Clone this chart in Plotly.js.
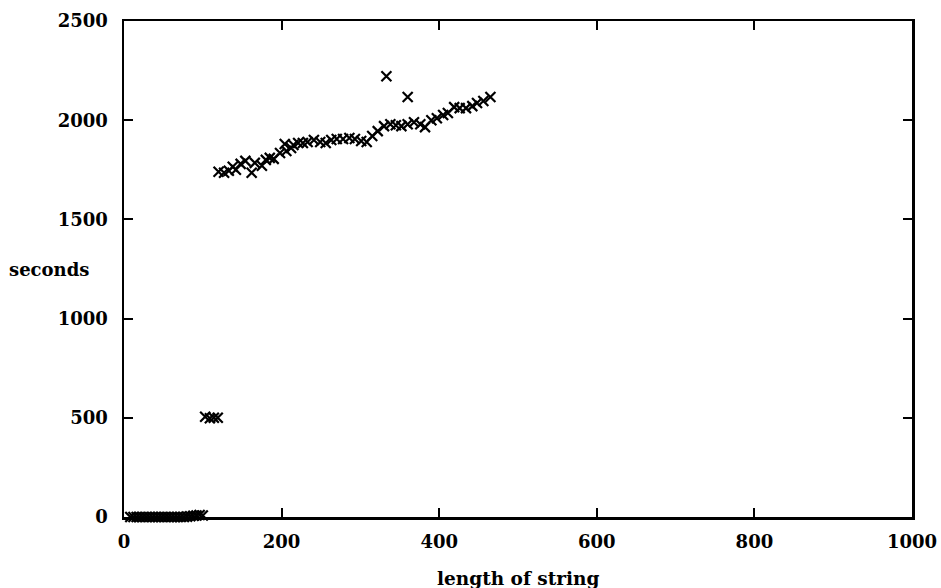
<!DOCTYPE html>
<html>
<head>
<meta charset="utf-8">
<script src="https://cdn.plot.ly/plotly-3.0.1.min.js"></script>
<style>html,body{margin:0;padding:0;background:#fff;}#chart{width:941px;height:588px;}</style>
</head>
<body>
<div id="chart"></div>
<script>
// length of string
const lengthLow = [8, 12, 16, 20, 24, 28, 32, 36, 40, 44, 48, 52, 56, 60, 64, 68, 72, 76, 80, 84, 88, 92, 96, 100];
const secondsLow = [0, 0, 0, 0, 0, 0, 0, 0, 0, 0, 0, 0, 0, 0, 0, 0, 0, 0, 2, 4, 6, 8, 10, 8];

const lengthMid = [103, 109, 114, 119];
const secondsMid = [505, 498, 500, 500];

const lengthHigh = [120, 127, 133, 138, 142, 148, 154, 162, 166, 175, 180, 185, 190, 198, 204, 206, 212, 215, 221, 227, 233, 241, 249, 256, 263, 270, 278, 286, 293, 301, 308, 315, 322, 330, 333, 338, 345, 352, 360, 360, 368, 376, 382, 390, 397, 405, 411, 419, 426, 434, 442, 448, 456, 465];
const secondsHigh = [1740, 1735, 1745, 1765, 1750, 1780, 1795, 1735, 1785, 1770, 1800, 1810, 1805, 1835, 1880, 1845, 1860, 1875, 1885, 1885, 1890, 1900, 1890, 1885, 1900, 1905, 1905, 1910, 1905, 1895, 1890, 1920, 1945, 1970, 2222, 1980, 1975, 1970, 2117, 1980, 1990, 1980, 1965, 2000, 2010, 2026, 2036, 2066, 2061, 2061, 2071, 2087, 2097, 2117];

const xTicks = [0, 200, 400, 600, 800, 1000];
const yTicks = [0, 500, 1000, 1500, 2000, 2500];

const xs = lengthLow.concat(lengthMid, lengthHigh);
const ys = secondsLow.concat(secondsMid, secondsHigh);

const font = {family: '"DejaVu Serif", serif', size: 18, color: '#000', weight: 'bold'};
const titleFont = {family: '"DejaVu Serif", serif', size: 18.5, color: '#000', weight: 'bold'};

const trace = {
  x: xs, y: ys, type: 'scatter', mode: 'markers',
  marker: {symbol: 'x-thin-open', size: 10, color: '#000', line: {color: '#000', width: 2.2}},
  cliponaxis: false, hoverinfo: 'skip'
};

const axisCommon = {
  showgrid: false, zeroline: false, showline: true, linecolor: '#000', linewidth: 2.5,
  mirror: 'ticks', ticks: 'inside', ticklen: 9, tickwidth: 2, tickcolor: '#000',
  tickfont: font
};

const layout = {
  width: 941, height: 588,
  margin: {l: 124, r: 29, t: 21, b: 71},
  paper_bgcolor: '#fff', plot_bgcolor: '#fff',
  showlegend: false,
  font: font,
  xaxis: Object.assign({}, axisCommon, {range: [0, 1000], tickvals: xTicks, ticktext: xTicks.map(String), ticklabelstandoff: 7}),
  yaxis: Object.assign({}, axisCommon, {range: [0, 2500], tickvals: yTicks, ticktext: yTicks.map(String), ticklabelstandoff: 10}),
  annotations: [
    {text: 'seconds', xref: 'paper', yref: 'paper', x: -0.095, y: 0.498, xanchor: 'center', yanchor: 'middle', showarrow: false, font: font},
    {text: 'length of string', xref: 'paper', yref: 'paper', x: 0.5, y: -0.123, xanchor: 'center', yanchor: 'middle', showarrow: false, font: titleFont}
  ]
};

Plotly.newPlot('chart', [trace], layout, {staticPlot: true, displayModeBar: false});
</script>
</body>
</html>
